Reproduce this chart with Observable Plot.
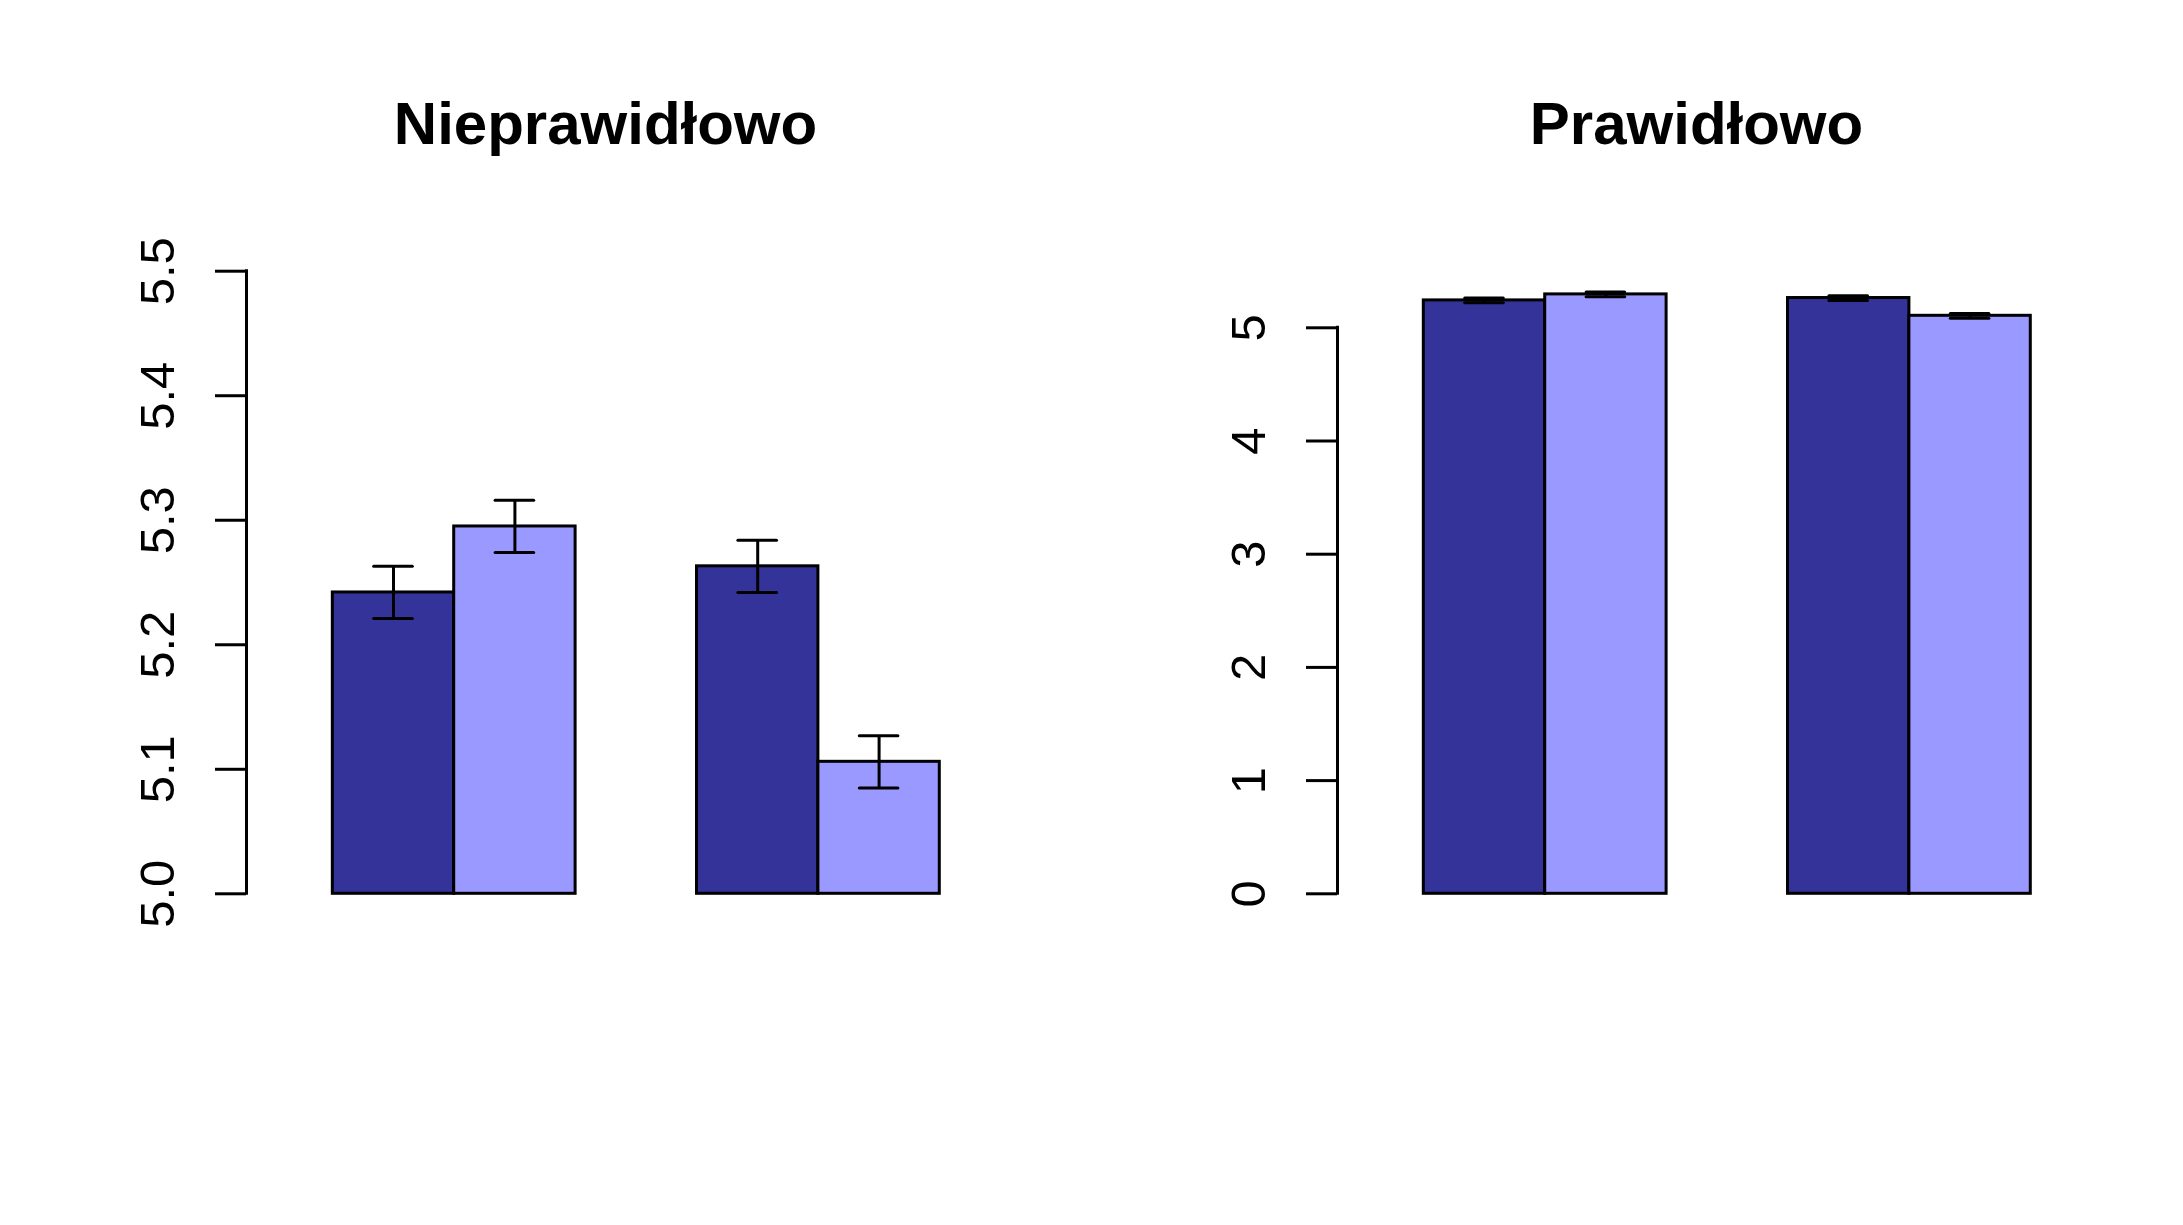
<!DOCTYPE html>
<html><head><meta charset="utf-8">
<script src="https://cdn.jsdelivr.net/npm/d3@7"></script>
<script src="https://cdn.jsdelivr.net/npm/@observablehq/plot@0.6"></script>
<style>
html,body{margin:0;padding:0;background:#fff;}
#chart{display:flex;width:2183px;height:1225px;}
#chart svg{max-width:none;flex:none;}
</style></head><body><div id="chart"></div>
<script>
// ---- data ----
const panelTitles = ["Nieprawidłowo", "Prawidłowo"];
const groups = ["1", "2"];
const seriesNames = ["A", "B"];
const seriesColors = ["#333399", "#9999ff"];
const valuesA = [5.242, 5.263];
const valuesB = [5.295, 5.106];
const errorsA = [0.021, 0.021];
const errorsB = [0.021, 0.021];
const leftTicks = [5.0, 5.1, 5.2, 5.3, 5.4, 5.5];
const leftTickLabels = ["5.0", "5.1", "5.2", "5.3", "5.4", "5.5"];
const rightTicks = [0, 1, 2, 3, 4, 5];
const rightTickLabels = ["0", "1", "2", "3", "4", "5"];
const leftDomain = [5.0, 5.5];
const rightDomain = [0, 5.5];

// ---- build rows (R barplot beside=TRUE layout: width 1, space c(0,1)) ----
const seriesValues = [valuesA, valuesB];
const seriesErrors = [errorsA, errorsB];
const rows = [];
groups.forEach((g, gi) => {
  seriesNames.forEach((s, si) => {
    const x1 = gi * (seriesNames.length + 1) + si + 1;
    rows.push({group: g, series: s, value: seriesValues[si][gi], err: seriesErrors[si][gi], x1, x2: x1 + 1});
  });
});

const xDomain = [0.289, 6.2035];
const capHalf = 0.159;
const center = d => (d.x1 + d.x2) / 2;

function panel(title, ticks, labels, yDomain, width) {
  const base = yDomain[0];
  return Plot.plot({
    width, height: 1225,
    marginLeft: 246, marginRight: width - 964, marginTop: 270.7, marginBottom: 331.7,
    x: {domain: xDomain, axis: null},
    y: {domain: yDomain, axis: null},
    color: {domain: seriesNames, range: seriesColors},
    style: {fontFamily: "'Liberation Sans', Arial, Helvetica, sans-serif", fontSize: "49px", background: "white", color: "black"},
    marks: [
      Plot.rectY(rows, {x1: "x1", x2: "x2", y1: () => base, y2: "value", fill: "series", stroke: "black", strokeWidth: 3}),
      Plot.ruleX(rows, {x: center, y1: d => d.value - d.err, y2: d => d.value + d.err, strokeWidth: 3}),
      Plot.ruleY(rows, {y: d => d.value + d.err, x1: d => center(d) - capHalf, x2: d => center(d) + capHalf, strokeWidth: 3, strokeLinecap: "round"}),
      Plot.ruleY(rows, {y: d => d.value - d.err, x1: d => center(d) - capHalf, x2: d => center(d) + capHalf, strokeWidth: 3, strokeLinecap: "round"}),
      Plot.ruleX([xDomain[0]], {x: d => d, y1: ticks[0], y2: ticks[ticks.length - 1], strokeWidth: 3, strokeLinecap: "square"}),
      Plot.axisY({ticks, anchor: "left", tickSize: 31, tickRotate: -90, tickPadding: 42, strokeWidth: 3,
        tickFormat: d => labels[ticks.indexOf(d)], label: null, fontSize: 49}),
      Plot.text([title], {frameAnchor: "top", text: d => d, dy: -127.7, lineAnchor: "bottom", fontSize: 60, fontWeight: "bold"})
    ]
  });
}

const chart = document.getElementById("chart");
chart.append(panel(panelTitles[0], leftTicks, leftTickLabels, leftDomain, 1091));
chart.append(panel(panelTitles[1], rightTicks, rightTickLabels, rightDomain, 1092));
</script></body></html>
